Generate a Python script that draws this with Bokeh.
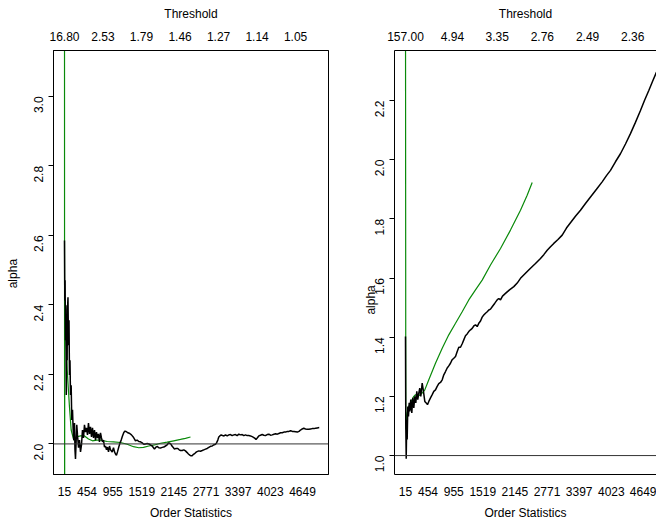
import math

from bokeh.embed import file_html
from bokeh.layouts import row
from bokeh.models import (FixedTicker, Label, LinearAxis, PrintfTickFormatter,
                          Range1d, Span)
from bokeh.plotting import figure
from bokeh.resources import INLINE

# ---- axis labels -----------------------------------------------------------
order_ticks = [15, 454, 955, 1519, 2145, 2771, 3397, 4023, 4649]

left_thr_k = [15, 765, 1515, 2265, 3015, 3765, 4515]
left_thr_labels = ["16.80", "2.53", "1.79", "1.46", "1.27", "1.14", "1.05"]

right_thr_k = [15, 930, 1800, 2680, 3560, 4440]
right_thr_labels = ["157.00", "4.94", "3.35", "2.76", "2.49", "2.36"]

left_yticks = [2.0, 2.2, 2.4, 2.6, 2.8, 3.0]
right_yticks = [1.0, 1.2, 1.4, 1.6, 1.8, 2.0, 2.2]

# ---- left panel: Hill estimate of alpha -------------------------------------
left_k = [15, 21, 27, 34, 42, 50, 58, 66, 73, 83, 93, 103, 112, 122, 132, 145,
          157, 171, 184, 196, 210, 219, 229, 243, 254, 268, 288, 307, 327, 346,
          365, 385, 404, 424, 443, 463, 482, 502, 521, 541, 560, 580, 599, 619,
          638, 658, 677, 696, 716, 735, 755, 774, 794, 813, 833, 852, 872, 891,
          911, 944, 969, 989, 1008, 1027, 1047, 1072, 1096, 1119, 1144, 1170,
          1193, 1222, 1251, 1286, 1319, 1353, 1378, 1397, 1430, 1462, 1495,
          1528, 1559, 1592, 1625, 1656, 1689, 1722, 1748, 1767, 1797, 1820,
          1851, 1884, 1917, 1948, 1981, 2014, 2040, 2065, 2089, 2112, 2137,
          2157, 2186, 2221, 2248, 2273, 2306, 2338, 2370, 2403, 2428, 2454,
          2478, 2501, 2526, 2555, 2585, 2630, 2663, 2696, 2727, 2760, 2793,
          2825, 2858, 2891, 2916, 2955, 2975, 3000, 3019, 3039, 3066, 3091,
          3120, 3150, 3183, 3214, 3247, 3280, 3311, 3344, 3377, 3409, 3442,
          3475, 3506, 3539, 3572, 3604, 3636, 3669, 3695, 3724, 3744, 3767,
          3798, 3831, 3864, 3896, 3928, 3961, 3994, 4026, 4059, 4092, 4125,
          4158, 4189, 4222, 4255, 4287, 4320, 4353, 4385, 4418, 4451, 4483,
          4516, 4549, 4581, 4610, 4643, 4674, 4707, 4740, 4772, 4805, 4838,
          4870, 4903, 4936, 4975]
left_alpha = [2.585, 2.413, 2.471, 2.298, 2.399, 2.141, 2.327, 2.241, 2.385,
              2.422, 2.284, 2.356, 2.198, 2.241, 2.141, 2.169, 2.069, 2.098,
              2.040, 2.011, 2.060, 1.983, 1.957, 2.011, 2.055, 2.026, 1.989,
              2.011, 1.977, 1.997, 2.040, 2.017, 2.055, 2.034, 2.046, 2.026,
              2.060, 2.029, 2.049, 2.020, 2.046, 2.017, 2.040, 2.011, 2.034,
              2.017, 2.029, 2.006, 2.032, 2.017, 2.006, 2.011, 1.991, 1.994,
              1.983, 1.991, 1.977, 1.994, 1.983, 1.977, 1.989, 1.977, 1.971,
              1.967, 1.977, 1.991, 2.003, 2.011, 2.023, 2.033, 2.037, 2.035,
              2.032, 2.030, 2.026, 2.020, 2.014, 2.009, 2.011, 2.007, 2.006,
              2.003, 1.999, 2.000, 2.001, 2.000, 1.997, 1.994, 1.989, 1.985,
              1.991, 1.993, 1.989, 1.988, 1.990, 1.991, 1.994, 1.997, 2.003,
              2.002, 1.999, 1.993, 1.989, 1.985, 1.987, 1.987, 1.983, 1.981,
              1.981, 1.983, 1.980, 1.975, 1.971, 1.968, 1.966, 1.966, 1.970,
              1.973, 1.977, 1.980, 1.979, 1.981, 1.983, 1.985, 1.987, 1.990,
              1.993, 1.994, 1.997, 1.999, 2.003, 2.011, 2.020, 2.023, 2.026,
              2.024, 2.023, 2.026, 2.023, 2.026, 2.027, 2.024, 2.026, 2.027,
              2.024, 2.028, 2.026, 2.027, 2.024, 2.026, 2.024, 2.024, 2.023,
              2.021, 2.019, 2.016, 2.013, 2.017, 2.023, 2.025, 2.027, 2.025,
              2.024, 2.027, 2.028, 2.025, 2.026, 2.028, 2.029, 2.028, 2.030,
              2.032, 2.032, 2.034, 2.034, 2.036, 2.036, 2.038, 2.036, 2.036,
              2.035, 2.034, 2.036, 2.040, 2.043, 2.045, 2.043, 2.042, 2.042,
              2.043, 2.044, 2.044, 2.045, 2.046, 2.047]

# smoothed estimate (green)
left_smooth_k = [15, 17, 20, 40, 55, 68, 112, 145, 196, 243, 327, 405, 482,
                 560, 639, 716, 846, 969, 1105, 1236, 1358, 1462, 1553, 1656,
                 1767, 1884, 2014, 2143, 2273, 2370, 2468]
left_smooth_alpha = [3.6, 1.6, 2.36, 2.33, 2.27, 2.212, 2.106, 2.040, 2.011,
                     2.020, 2.023, 2.023, 2.014, 2.009, 2.011, 2.011, 2.007,
                     2.006, 2.004, 1.999, 1.992, 1.989, 1.990, 1.994, 1.997,
                     2.002, 2.005, 2.009, 2.013, 2.016, 2.020]

# ---- right panel ------------------------------------------------------------
right_k = [15, 21, 29, 40, 48, 60, 73, 87, 99, 118, 138, 157, 177, 196, 216,
           235, 254, 274, 293, 313, 340, 365, 391, 418, 443, 469, 502, 535,
           566, 599, 632, 663, 696, 730, 761, 794, 827, 858, 891, 924, 955,
           989, 1022, 1053, 1086, 1119, 1150, 1183, 1216, 1247, 1281, 1314,
           1345, 1378, 1411, 1442, 1476, 1508, 1539, 1573, 1606, 1637, 1670,
           1703, 1754, 1800, 1832, 1865, 1904, 1962, 2040, 2124, 2190, 2254,
           2351, 2449, 2546, 2643, 2708, 2774, 2838, 2902, 2984, 3066, 3149,
           3227, 3324, 3422, 3519, 3617, 3734, 3844, 3928, 4006, 4103, 4200,
           4298, 4395, 4492, 4590, 4668, 4752, 4824, 4902]
right_alpha = [1.402, 1.099, 0.989, 1.121, 1.054, 1.166, 1.132, 1.178, 1.149,
               1.189, 1.144, 1.195, 1.161, 1.200, 1.178, 1.217, 1.189, 1.211,
               1.228, 1.200, 1.245, 1.217, 1.183, 1.178, 1.172, 1.183, 1.195,
               1.206, 1.217, 1.222, 1.234, 1.243, 1.247, 1.256, 1.273, 1.284,
               1.296, 1.303, 1.312, 1.324, 1.329, 1.335, 1.352, 1.366, 1.366,
               1.378, 1.391, 1.405, 1.411, 1.419, 1.425, 1.430, 1.438, 1.442,
               1.436, 1.447, 1.455, 1.468, 1.475, 1.481, 1.486, 1.492, 1.495,
               1.503, 1.515, 1.526, 1.531, 1.526, 1.539, 1.548, 1.560, 1.571,
               1.583, 1.599, 1.616, 1.633, 1.649, 1.666, 1.679, 1.694, 1.706,
               1.717, 1.730, 1.745, 1.769, 1.787, 1.809, 1.829, 1.852, 1.874,
               1.900, 1.925, 1.946, 1.964, 1.993, 2.020, 2.053, 2.088, 2.126,
               2.166, 2.200, 2.234, 2.264, 2.296]

right_smooth_k = [15, 21, 48, 79, 112, 177, 210, 243, 274, 340, 391, 469, 599,
                  730, 858, 989, 1119, 1247, 1378, 1508, 1670, 1865, 2059,
                  2254, 2384, 2482]
right_smooth_alpha = [2.6, 1.088, 1.144, 1.166, 1.178, 1.200, 1.206, 1.198,
                      1.202, 1.211, 1.222, 1.256, 1.312, 1.363, 1.408, 1.447,
                      1.486, 1.526, 1.560, 1.593, 1.644, 1.700, 1.762, 1.829,
                      1.880, 1.923]

FONT = "Liberation Sans"
SIZE = "12px"
INK = "#000000"
GREEN = "#0a8a0a"


def panel(width, border_left, border_right, x_end, y_range, yticks,
          k, alpha, smooth_k, smooth_alpha, ref_level, thr_k, thr_labels,
          outline, ylab_pos):
    p = figure(width=width, height=522,
               x_range=Range1d(-199, x_end), y_range=Range1d(*y_range),
               output_backend="svg", toolbar_location=None,
               x_axis_location=None, y_axis_location="left",
               min_border_left=border_left, min_border_right=border_right,
               min_border_top=50, min_border_bottom=47)
    p.grid.visible = False
    p.background_fill_color = "white"
    p.border_fill_color = "white"
    p.outline_line_color = INK if outline else None
    p.outline_line_width = 1

    # y axis (left)
    ya = p.yaxis[0]
    ya.ticker = FixedTicker(ticks=yticks)
    ya.formatter = PrintfTickFormatter(format="%.1f")
    ya.major_label_orientation = math.pi / 2
    ya.major_tick_out = 5
    ya.major_tick_in = 0
    ya.minor_tick_out = 0
    ya.minor_tick_in = 0
    ya.major_label_standoff = 10

    # order statistics (bottom)
    xb = LinearAxis(ticker=FixedTicker(ticks=order_ticks),
                    major_label_overrides={t: str(t) for t in order_ticks},
                    axis_label="Order Statistics")
    xb.major_tick_out = 0
    xb.major_tick_in = 0
    xb.minor_tick_out = 0
    xb.minor_tick_in = 0
    xb.major_label_standoff = 12
    xb.axis_label_standoff = 7
    p.add_layout(xb, "below")

    # thresholds (top)
    xt = LinearAxis(ticker=FixedTicker(ticks=thr_k),
                    major_label_overrides=dict(zip(thr_k, thr_labels)),
                    axis_label="Threshold")
    xt.major_tick_out = 0
    xt.major_tick_in = 0
    xt.minor_tick_out = 0
    xt.minor_tick_in = 0
    xt.major_label_standoff = 10
    xt.axis_label_standoff = 8
    p.add_layout(xt, "above")

    for ax in (ya, xb, xt):
        ax.axis_line_color = INK
        ax.axis_line_width = 1
        ax.major_tick_line_color = INK
        ax.major_label_text_font = FONT
        ax.major_label_text_font_size = SIZE
        ax.major_label_text_color = INK
        ax.axis_label_text_font = FONT
        ax.axis_label_text_font_size = SIZE
        ax.axis_label_text_font_style = "normal"
        ax.axis_label_text_color = INK

    # y axis title, drawn in the left margin (side panel, so it is not clipped)
    p.add_layout(Label(x=ylab_pos[0], y=ylab_pos[1], text="alpha",
                       angle=math.pi / 2, text_align="center",
                       text_baseline="middle", text_font=FONT,
                       text_font_size=SIZE, text_color=INK), "left")

    p.add_layout(Span(location=ref_level, dimension="width",
                      line_color="#333333", line_width=1))
    p.line(smooth_k, smooth_alpha, line_color=GREEN, line_width=1.2)
    p.line(k, alpha, line_color=INK, line_width=1.5)
    return p


left = panel(330, 53, 2, 5155, (1.912, 3.132), left_yticks,
             left_k, left_alpha, left_smooth_k, left_smooth_alpha, 2.0,
             left_thr_k, left_thr_labels, outline=True,
             ylab_pos=(-997, 2.49))
right = panel(326, 64, 0, 4902, (0.936, 2.369), right_yticks,
              right_k, right_alpha, right_smooth_k, right_smooth_alpha, 1.0,
              right_thr_k, right_thr_labels, outline=False,
              ylab_pos=(-666, 1.526))

layout = row(left, right)
open("out.html", "w").write(file_html(layout, INLINE))
